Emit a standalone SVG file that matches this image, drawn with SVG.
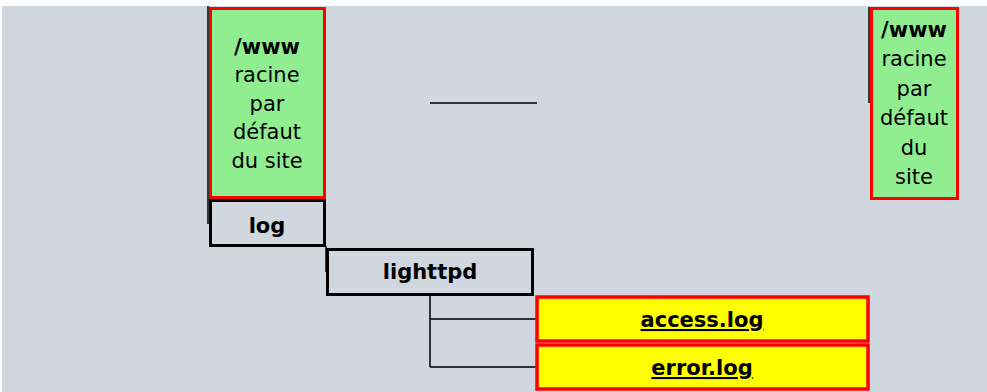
<svg xmlns="http://www.w3.org/2000/svg" width="987" height="392" viewBox="0 0 987 392">
<style>
text{font-family:"DejaVu Sans",sans-serif;font-size:21px;fill:#000;text-anchor:middle}
.b{font-weight:bold}
.u{text-decoration:underline}
.green{fill:#90EE90;stroke:#FF0000;stroke-width:3}
.yellow{fill:#FFFF00;stroke:#FF0000;stroke-width:3.5}
.plain{fill:none;stroke:#000;stroke-width:3}
.ln{stroke:#000;stroke-width:1.5;fill:none}
</style>
<rect x="0" y="0" width="987" height="392" fill="#FFFFFF"/>
<rect x="2" y="6" width="985" height="386" fill="#D0D7DF"/>
<g id="connectors">
<path class="ln" d="M208,6 V224"/>
<path class="ln" d="M430,103 H537"/>
<path class="ln" d="M869,7 V103"/>
<path class="ln" d="M326,246 V272"/>
<path class="ln" d="M430,295 V367 M430,319 H536 M430,367 H536"/>
</g>
<g id="www-left">
<rect class="green" x="210.5" y="8.5" width="114" height="189"/>
<text class="b" x="267" y="54">/www</text>
<text x="267" y="82">racine</text>
<text x="267" y="111">par</text>
<text x="267" y="139">défaut</text>
<text x="267" y="168">du site</text>
</g>
<g id="log">
<rect class="plain" x="210.5" y="200.5" width="114" height="45"/>
<text class="b" x="267" y="233">log</text>
</g>
<g id="lighttpd">
<rect class="plain" x="327.5" y="249.5" width="205" height="45"/>
<text class="b" x="430" y="279">lighttpd</text>
</g>
<g id="access-log">
<rect class="yellow" x="537" y="297" width="331" height="44"/>
<text class="b u" x="702" y="327">access.log</text>
</g>
<g id="error-log">
<rect class="yellow" x="537" y="345" width="331" height="44"/>
<text class="b u" x="702" y="375">error.log</text>
</g>
<g id="www-right">
<rect class="green" x="871.5" y="8.5" width="86" height="190"/>
<text class="b" x="914" y="37">/www</text>
<text x="914" y="66">racine</text>
<text x="914" y="96">par</text>
<text x="914" y="125">défaut</text>
<text x="914" y="155">du</text>
<text x="914" y="184">site</text>
</g>
</svg>
